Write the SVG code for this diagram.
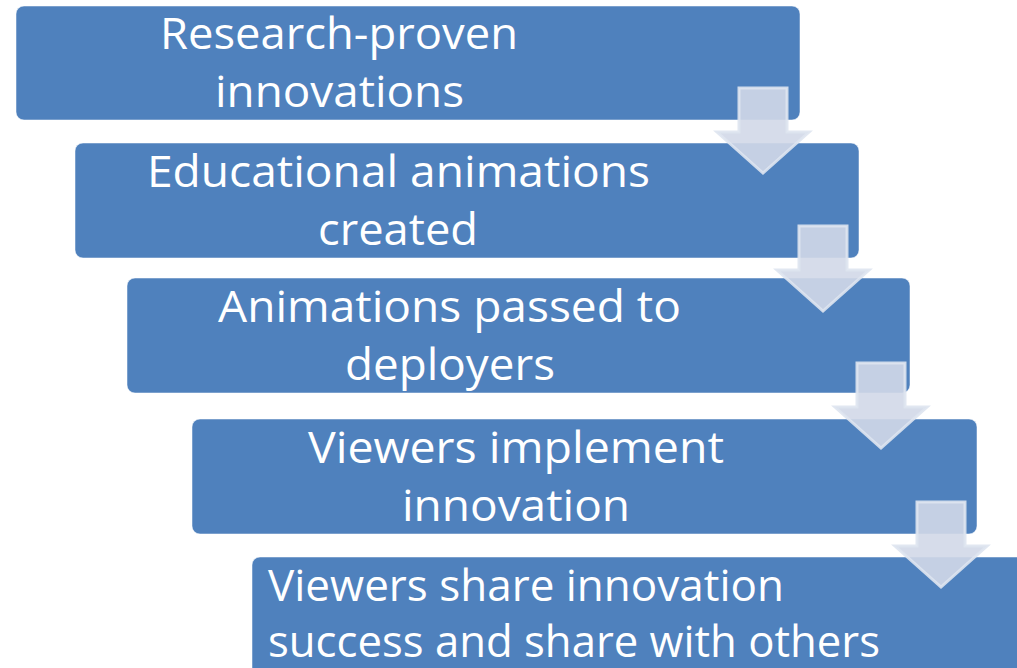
<svg xmlns="http://www.w3.org/2000/svg" width="1017" height="668" viewBox="0 0 1017 668">
<defs>
<style>
.box{fill:#4F81BD;stroke:#ffffff;stroke-opacity:0.5;stroke-width:1}
.lbl{fill:#ffffff;font-family:"Open Sans","Noto Sans","Liberation Sans",sans-serif;font-size:43px}
.arr{fill:#D1D8E8;fill-opacity:0.9;stroke:#DEE4F0;stroke-opacity:0.9;stroke-width:3;stroke-linejoin:miter}
</style>
<path id="dn" d="M-24,0 H24 V44 H46 L0,85 L-46,44 H-24 Z"/>
</defs>
<rect width="1017" height="668" fill="#ffffff"/>
<g id="node1">
<rect class="box" x="16" y="6" width="784" height="114" rx="8"/>
<text class="lbl" x="160" y="49" textLength="358" lengthAdjust="spacingAndGlyphs">Research-proven</text>
<text class="lbl" x="215" y="107" textLength="249" lengthAdjust="spacingAndGlyphs">innovations</text>
</g>
<g id="node2">
<rect class="box" x="75" y="143" width="784" height="115" rx="8"/>
<text class="lbl" x="147" y="187" textLength="503" lengthAdjust="spacingAndGlyphs">Educational animations</text>
<text class="lbl" x="318" y="245" textLength="160" lengthAdjust="spacingAndGlyphs">created</text>
</g>
<g id="node3">
<rect class="box" x="127" y="278" width="783" height="115" rx="8"/>
<text class="lbl" x="218" y="322" textLength="463" lengthAdjust="spacingAndGlyphs">Animations passed to</text>
<text class="lbl" x="345" y="380" textLength="210" lengthAdjust="spacingAndGlyphs">deployers</text>
</g>
<g id="node4">
<rect class="box" x="192" y="419" width="785" height="115" rx="8"/>
<text class="lbl" x="308" y="463" textLength="416" lengthAdjust="spacingAndGlyphs">Viewers implement</text>
<text class="lbl" x="402" y="521" textLength="228" lengthAdjust="spacingAndGlyphs">innovation</text>
</g>
<g id="node5">
<rect class="box" x="252" y="557" width="800" height="130" rx="8"/>
<text class="lbl" x="268" y="601" textLength="516" lengthAdjust="spacingAndGlyphs">Viewers share innovation</text>
<text class="lbl" x="268" y="657" textLength="612" lengthAdjust="spacingAndGlyphs">success and share with others</text>
</g>
<g id="connectors">
<use href="#dn" class="arr" transform="translate(763,88)"/>
<use href="#dn" class="arr" transform="translate(823,226)"/>
<use href="#dn" class="arr" transform="translate(881,363)"/>
<use href="#dn" class="arr" transform="translate(941,502)"/>
</g>
</svg>
